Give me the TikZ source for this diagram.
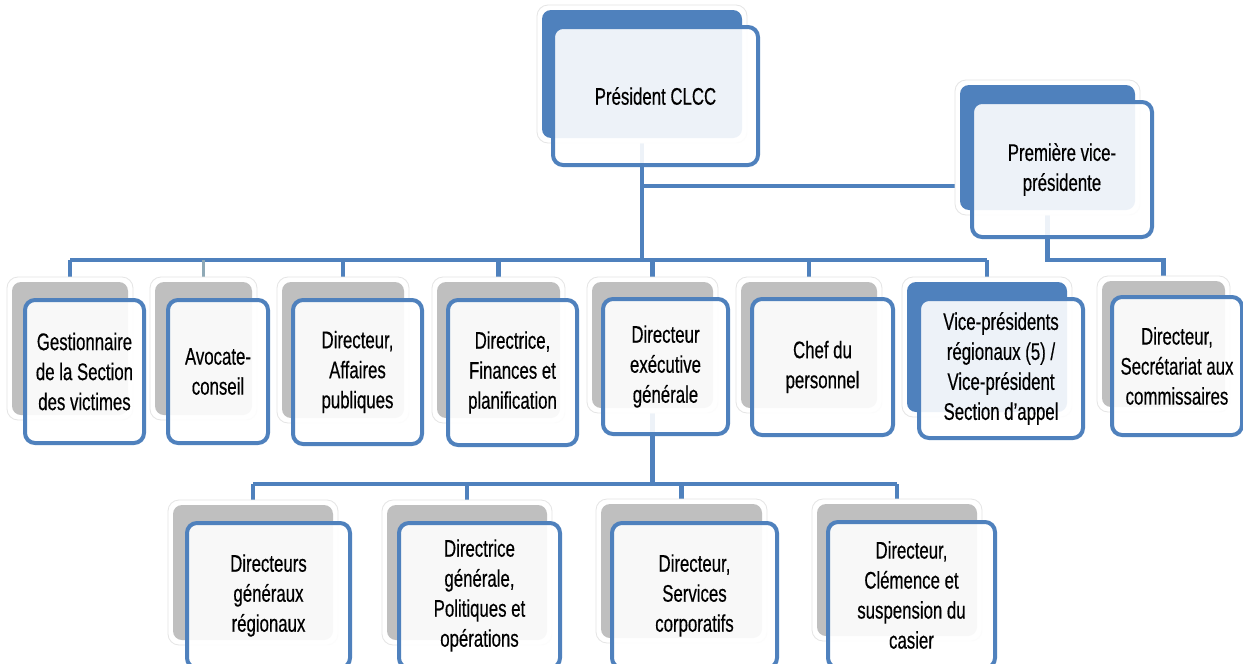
\documentclass[tikz,border=0pt]{standalone}
\usepackage{fontspec}
\setmainfont[FakeStretch=0.7,FakeBold=0.4]{Liberation Sans}
\usetikzlibrary{backgrounds}
\definecolor{obl}{HTML}{4F81BD}
\definecolor{ogr}{HTML}{BFBFBF}
\definecolor{othin}{HTML}{8FA9B6}
\tikzset{
  conn/.style={draw=obl, line width=4.5pt},
  halo/.style={rectangle, rounded corners=11pt, fill=white, draw=black!10, line width=0.8pt, inner sep=0pt},
  backbox/.style={rectangle, rounded corners=9pt, inner sep=0pt},
  frontbox/.style={rectangle, rounded corners=10pt, draw=obl, line width=4pt, fill=white,
    fill opacity=0.9, text opacity=1, inner sep=0pt, align=center,
    font=\fontsize{24}{30}\selectfont}
}
% back box with halo: name, colour, x1, y1, x2, y2
\newcommand\orgback[6]{%
  \node[halo, minimum width={#5-#3+10}, minimum height={#6-#4+10}] at ({(#3+#5)/2},{(#4+#6)/2}) {};
  \node[backbox, fill=#2, minimum width={#5-#3}, minimum height={#6-#4}] (#1) at ({(#3+#5)/2},{(#4+#6)/2}) {};
}
% front box: name, x1, y1, x2, y2, text
\newcommand\orgfront[6]{%
  \node[frontbox, minimum width={#4-#2}, minimum height={#5-#3}] (#1) at ({(#2+#4)/2},{(#3+#5)/2}) {#6};
}
\begin{document}
\begin{tikzpicture}[x=1pt,y=-1pt]
\useasboundingbox (0,0) rectangle (1243,664);
\clip (0,0) rectangle (1243,664);

\orgback{presb}{obl}{542}{10}{742}{138}
\orgfront{pres}{553}{27}{758}{165}{Président CLCC}

\orgback{vpb}{obl}{960}{85}{1135}{210}
\orgfront{vp}{972}{102}{1152}{237}{Première vice-\\présidente}

\orgback{gestb}{ogr}{12}{282}{128}{415}
\orgfront{gest}{25}{300}{144}{443}{Gestionnaire\\de la Section\\des victimes}

\orgback{avocb}{ogr}{155}{282}{252}{415}
\orgfront{avoc}{168}{300}{268}{443}{Avocate-\\conseil}

\orgback{affpb}{ogr}{282}{282}{404}{418}
\orgfront{affp}{293}{300}{422}{444}{Directeur,\\Affaires\\publiques}

\orgback{finb}{ogr}{437}{282}{560}{418}
\orgfront{fin}{448}{300}{577}{445}{Directrice,\\Finances et\\planification}

\orgback{dexeb}{ogr}{592}{282}{713}{408}
\orgfront{dexe}{603}{299}{728}{434}{Directeur\\exécutive\\générale}

\orgback{chefb}{ogr}{741}{282}{877}{408}
\orgfront{chef}{752}{299}{893}{435}{Chef du\\personnel}

\orgback{vprb}{obl}{907}{282}{1067}{412}
\orgfront{vpr}{919}{299}{1083}{438}{Vice-présidents\\régionaux (5) /\\Vice-président\\Section d’appel}

\orgback{secrb}{ogr}{1102}{281}{1225}{407}
\orgfront{secr}{1112}{297}{1242}{435}{Directeur,\\Secrétariat aux\\commissaires}

\orgback{dgrb}{ogr}{173}{505}{333}{640}
\orgfront{dgr}{187}{523}{350}{668}{Directeurs\\généraux\\régionaux}

\orgback{polb}{ogr}{387}{505}{547}{640}
\orgfront{pol}{399}{523}{560}{668}{Directrice\\générale,\\Politiques et\\opérations}

\orgback{servb}{ogr}{601}{504}{762}{638}
\orgfront{serv}{612}{523}{777}{668}{Directeur,\\Services\\corporatifs}

\orgback{clemb}{ogr}{817}{504}{977}{636}
\orgfront{clem}{828}{522}{995}{668}{Directeur,\\Clémence et\\suspension du\\casier}

\coordinate (bus) at (641,260);
\coordinate (vpj) at (641,186);
\coordinate (sub) at (653,484);

\begin{pgfonlayer}{background}
  \fill[white] (0,0) rectangle (1243,664);
  % president to main bus and first vice-president
  \draw[conn] (presb.south) -- (presb.south |- bus);
  \draw[conn] (vpj) -- (vpj -| vpb.west);
  % main bus
  \draw[conn] (gestb.north |- bus) -- (vprb.north |- bus);
  \draw[conn] (gestb.north |- bus) -- (gestb.north);
  \draw[draw=othin, line width=2.5pt] (avocb.north |- bus) -- (avocb.north);
  \draw[conn] (affpb.north |- bus) -- (affpb.north);
  \draw[conn] (finb.north |- bus) -- (finb.north);
  \draw[conn] (dexeb.north |- bus) -- (dexeb.north);
  \draw[conn] (chefb.north |- bus) -- (chefb.north);
  \draw[conn] (vprb.north |- bus) -- (vprb.north);
  % first vice-president to secretariat
  \draw[conn] (vpb.south) -- (vpb.south |- bus) -| (secrb.north);
  % executive director to sub bus
  \draw[conn] (dexeb.south) -- (dexeb.south |- sub);
  \draw[conn] (dgrb.north |- sub) -- (clemb.north |- sub);
  \draw[conn] (dgrb.north |- sub) -- (dgrb.north);
  \draw[conn] (polb.north |- sub) -- (polb.north);
  \draw[conn] (servb.north |- sub) -- (servb.north);
  \draw[conn] (clemb.north |- sub) -- (clemb.north);
\end{pgfonlayer}
\end{tikzpicture}
\end{document}
